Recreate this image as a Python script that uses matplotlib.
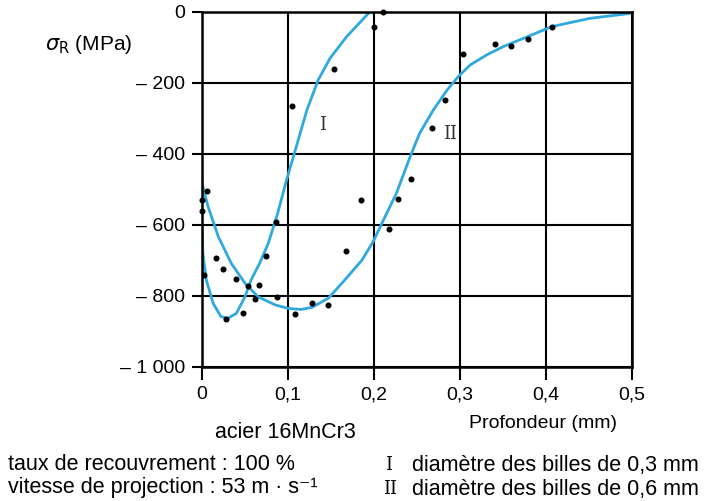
import matplotlib
matplotlib.use('Agg')
import matplotlib.pyplot as plt

# measured points, 0.3 mm balls (I)
x_pts_1 = [0.002, 0.028, 0.048, 0.062, 0.074, 0.086, 0.105, 0.154, 0.200, 0.211]
y_pts_1 = [-741, -865, -847, -809, -687, -591, -265, -161, -41, 0]

# measured points, 0.6 mm balls (II)
x_pts_2 = [0.006, 0.0, 0.0, 0.016, 0.024, 0.040, 0.053, 0.066, 0.087, 0.108,
           0.128, 0.146, 0.168, 0.185, 0.218, 0.228, 0.243, 0.267, 0.282, 0.304,
           0.341, 0.359, 0.379, 0.407]
y_pts_2 = [-504, -530, -560, -692, -725, -751, -772, -769, -802, -852,
           -821, -825, -673, -531, -612, -527, -470, -328, -248, -118,
           -90, -96, -76, -41]

# fitted curves
x_curve_1 = [0.0, 0.001, 0.005, 0.013, 0.022, 0.030, 0.040, 0.050, 0.057, 0.067,
             0.077, 0.088, 0.098, 0.108, 0.122, 0.135, 0.149, 0.168, 0.195]
y_curve_1 = [-605, -680, -755, -821, -858, -863, -849, -802, -755, -708,
             -652, -567, -476, -393, -276, -192, -130, -70, 0]

x_curve_2 = [0.0, 0.007, 0.019, 0.034, 0.050, 0.065, 0.085, 0.100, 0.115, 0.128,
             0.147, 0.166, 0.186, 0.199, 0.211, 0.226, 0.242, 0.253, 0.269, 0.285,
             0.298, 0.312, 0.331, 0.350, 0.378, 0.407, 0.451, 0.498]
y_curve_2 = [-483, -548, -633, -708, -764, -802, -825, -835, -838, -832,
             -806, -755, -699, -647, -586, -511, -408, -342, -276, -220,
             -182, -149, -121, -98, -70, -41, -18, -4]

x_ticks = [0, 0.1, 0.2, 0.3, 0.4, 0.5]
x_labels = ['0', '0,1', '0,2', '0,3', '0,4', '0,5']
y_ticks = [0, -200, -400, -600, -800, -1000]
y_labels = ['0', '\u2013 200', '\u2013 400', '\u2013 600', '\u2013 800', '\u2013 1 000']

plt.rcParams['font.family'] = ['Liberation Sans', 'DejaVu Sans']
plt.rcParams['mathtext.fontset'] = 'dejavusans'

blue = '#2fa9e0'

fig = plt.figure(figsize=(7.23, 5.01), dpi=100)
ax = fig.add_axes([0.2794, 0.2675, 0.5947, 0.7086])

ax.plot(x_curve_1, y_curve_1, color=blue, lw=2, solid_joinstyle='round')
ax.plot(x_curve_2, y_curve_2, color=blue, lw=2, solid_joinstyle='round')
ax.scatter(x_pts_1, y_pts_1, s=11, color='black', zorder=3, clip_on=False)
ax.scatter(x_pts_2, y_pts_2, s=11, color='black', zorder=3, clip_on=False)

ax.set_xlim(0, 0.5)
ax.set_ylim(-1000, 0)
ax.set_xticks(x_ticks)
ax.set_xticklabels(x_labels, fontsize=14)
ax.set_yticks(y_ticks)
ax.set_yticklabels(y_labels, fontsize=14)
ax.tick_params(axis='x', direction='out', length=9, width=1.5, pad=5)
ax.tick_params(axis='y', direction='out', length=7, width=1.5, pad=5)
ax.grid(True, color='black', lw=1.5)
for s in ax.spines.values():
    s.set_linewidth(1.8)

ax.text(0.14, -318, 'I', family='DejaVu Serif', fontsize=13, color='#333333',
        ha='center', va='center')
ax.text(0.289, -345, 'II', family='DejaVu Serif', fontsize=13, color='#333333',
        ha='center', va='center')

fig.text(89 / 723, 1 - 45 / 501, r'$\sigma_\mathrm{R}$ (MPa)', fontsize=15,
         ha='center', va='center')
fig.text(543 / 723, 1 - 424 / 501, 'Profondeur (mm)', fontsize=14,
         ha='center', va='center')
fig.text(285 / 723, 1 - 433 / 501, 'acier 16MnCr3', fontsize=15.5,
         ha='center', va='center')
fig.text(8 / 723, 1 - 465 / 501, 'taux de recouvrement : 100 %', fontsize=15.5,
         ha='left', va='center')
fig.text(8 / 723, 1 - 488 / 501, 'vitesse de projection : 53 m \u00b7 s\u207b\u00b9',
         fontsize=15.5, ha='left', va='center')
fig.text(385 / 723, 1 - 465 / 501, 'I', family='DejaVu Serif', fontsize=13,
         ha='left', va='center')
fig.text(412 / 723, 1 - 465 / 501, 'diamètre des billes de 0,3 mm', fontsize=15.5,
         ha='left', va='center')
fig.text(383 / 723, 1 - 489 / 501, 'II', family='DejaVu Serif', fontsize=13,
         ha='left', va='center')
fig.text(412 / 723, 1 - 489 / 501, 'diamètre des billes de 0,6 mm', fontsize=15.5,
         ha='left', va='center')

fig.savefig('out.png', dpi=100)
